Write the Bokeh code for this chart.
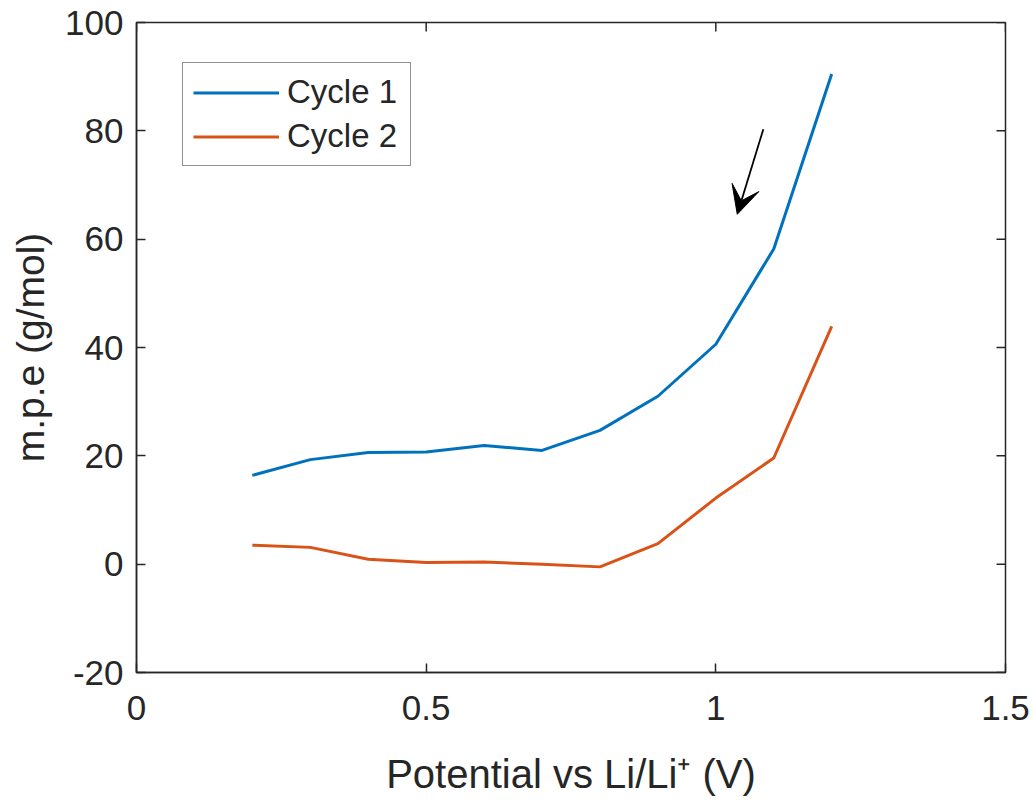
import math

from bokeh.plotting import figure
from bokeh.models import (Legend, LegendItem, Arrow, VeeHead, FixedTicker,
                          Range1d)
from bokeh.embed import file_html
from bokeh.resources import INLINE

# Potential steps (V vs Li/Li+)
potential = [0.2, 0.3, 0.4, 0.5, 0.6, 0.7, 0.8, 0.9, 1.0, 1.1, 1.2]
# Mass per electron (g/mol) for each cycle
cycle1_mpe = [16.4, 19.3, 20.6, 20.7, 21.9, 21.0, 24.7, 31.0, 40.6, 58.2, 90.5]
cycle2_mpe = [3.5, 3.1, 0.9, 0.3, 0.4, 0.0, -0.5, 3.8, 12.2, 19.6, 43.9]

series_names = ["Cycle 1", "Cycle 2"]
x_ticks = [0, 0.5, 1, 1.5]
y_ticks = [-20, 0, 20, 40, 60, 80, 100]
x_lim = (0, 1.5)
y_lim = (-20, 100)

# Arrow marking the sweep direction (data coordinates)
arrow_start = (1.082, 80.3)
arrow_end = (1.037, 64.6)

AX = "#262626"
FONT = "Liberation Sans"
BLUE = "#0072BD"
ORANGE = "#D95319"
TICK_LEN = 9

p = figure(width=1034, height=800, output_backend="svg", toolbar_location=None,
           x_range=Range1d(*x_lim), y_range=Range1d(*y_lim),
           min_border_left=136, min_border_right=29, min_border_top=22,
           min_border_bottom=128, background_fill_color="white",
           border_fill_color="white")
p.grid.visible = False
p.outline_line_color = AX
p.outline_line_width = 1.5


def style_axis(ax):
    ax.axis_line_color = AX
    ax.axis_line_width = 1.5
    ax.major_tick_line_color = AX
    ax.major_tick_line_width = 1.5
    ax.major_tick_in = TICK_LEN
    ax.major_tick_out = 0
    ax.minor_tick_line_color = None
    ax.major_label_text_font = FONT
    ax.major_label_text_font_size = "35px"
    ax.major_label_text_color = AX
    ax.axis_label_text_font = FONT
    ax.axis_label_text_font_style = "normal"
    ax.axis_label_text_color = AX


xa = p.xaxis[0]
xa.ticker = FixedTicker(ticks=x_ticks)
xa.axis_label = "Potential vs Li/Li\u207a (V)"
style_axis(xa)
xa.axis_label_text_font_size = "40px"
xa.major_label_standoff = 23
xa.axis_label_standoff = 29

ya = p.yaxis[0]
ya.ticker = FixedTicker(ticks=y_ticks)
ya.axis_label = "m.p.e (g/mol)"
style_axis(ya)
ya.axis_label_text_font_size = "39px"
ya.major_label_standoff = 13
ya.axis_label_standoff = 10
ya.major_label_overrides = {t: str(t) for t in y_ticks if t < 0}

# Inward tick marks along the top and right edges of the box
p.ray(x=x_ticks, y=[y_lim[1]] * len(x_ticks), length=TICK_LEN,
      length_units="screen", angle=-math.pi / 2, line_color=AX, line_width=1.5)
p.ray(x=[x_lim[1]] * len(y_ticks), y=y_ticks, length=TICK_LEN,
      length_units="screen", angle=math.pi, line_color=AX, line_width=1.5)

r1 = p.line(potential, cycle1_mpe, line_color=BLUE, line_width=3)
r2 = p.line(potential, cycle2_mpe, line_color=ORANGE, line_width=3)

legend = Legend(items=[LegendItem(label=series_names[0], renderers=[r1]),
                       LegendItem(label=series_names[1], renderers=[r2])],
                location=(46, 506), orientation="vertical",
                label_text_font=FONT, label_text_font_size="33px",
                label_text_color=AX, glyph_width=86, glyph_height=35,
                label_height=35, label_width=113, label_standoff=8,
                spacing=6, padding=10, margin=0, border_line_color=AX,
                border_line_width=1.5, background_fill_color="white",
                background_fill_alpha=1)
p.add_layout(legend, "center")

p.add_layout(Arrow(x_start=arrow_start[0], y_start=arrow_start[1],
                   x_end=arrow_end[0], y_end=arrow_end[1],
                   line_color="black", line_width=1.8,
                   end=VeeHead(size=28, fill_color="black", line_color="black")))

open("out.html", "w").write(file_html(p, INLINE))
